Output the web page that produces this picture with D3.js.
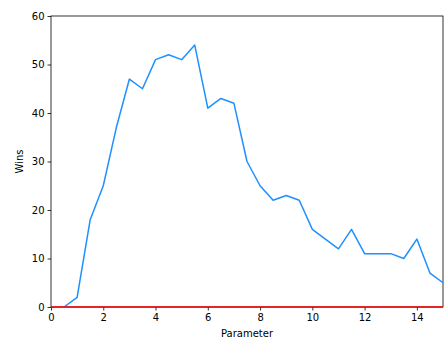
<!DOCTYPE html>
<html>
<head>
<meta charset="utf-8">
<script src="https://cdn.jsdelivr.net/npm/d3@7"></script>
<style>
  html, body { margin: 0; padding: 0; background: #fff; }
  svg { display: block; font-family: "DejaVu Sans", sans-serif; }
</style>
</head>
<body>
<svg id="chart" width="445" height="343"></svg>
<script>
// Parameter sweep and number of wins at each setting
const params = [0.5, 1, 1.5, 2, 2.5, 3, 3.5, 4, 4.5, 5, 5.5, 6, 6.5, 7, 7.5,
                8, 8.5, 9, 9.5, 10, 10.5, 11, 11.5, 12, 12.5, 13, 13.5, 14, 14.5, 15];
const wins = [0, 2, 18, 25, 37, 47, 45, 51, 52, 51, 54, 41, 43, 42, 30,
              25, 22, 23, 22, 16, 14, 12, 16, 11, 11, 11, 10, 14, 7, 5];
const baseline = [0, 0];
const baselineX = [0, 15];
const xTicks = [0, 2, 4, 6, 8, 10, 12, 14];
const yTicks = [0, 10, 20, 30, 40, 50, 60];

const svg = d3.select("#chart");
const margin = { left: 51, right: 2, top: 16, bottom: 36 };
const W = 445, H = 343;

const x = d3.scaleLinear().domain([0, 15]).range([margin.left, W - margin.right]);
const y = d3.scaleLinear().domain([0, 60]).range([H - margin.bottom, margin.top]);

// Axes
const xAxis = svg.append("g")
  .attr("transform", `translate(0,${H - margin.bottom})`)
  .call(d3.axisBottom(x).tickValues(xTicks).tickSize(3.5).tickPadding(3).tickSizeOuter(0));
const yAxis = svg.append("g")
  .attr("transform", `translate(${margin.left},0)`)
  .call(d3.axisLeft(y).tickValues(yTicks).tickSize(3.5).tickPadding(3).tickSizeOuter(0));
[xAxis, yAxis].forEach(g => {
  g.select(".domain").remove();
  g.selectAll("text").attr("font-size", 10).attr("fill", "#000")
    .attr("font-family", "DejaVu Sans, sans-serif");
  g.selectAll("line").attr("stroke", "#000").attr("stroke-width", 0.8);
});

// Frame
svg.append("rect")
  .attr("x", x(0)).attr("y", y(60))
  .attr("width", x(15) - x(0)).attr("height", y(0) - y(60))
  .attr("fill", "none").attr("stroke", "#000").attr("stroke-width", 0.8);

// Wins curve
const line = d3.line().x((d, i) => x(params[i])).y(d => y(d));
svg.append("path")
  .datum(wins)
  .attr("d", line)
  .attr("fill", "none")
  .attr("stroke", "#1e90ff")
  .attr("stroke-width", 1.5)
  .attr("stroke-linejoin", "round");

// Zero baseline
svg.append("path")
  .datum(baseline)
  .attr("d", d3.line().x((d, i) => x(baselineX[i])).y(d => y(d)))
  .attr("fill", "none")
  .attr("stroke", "#ff0000")
  .attr("stroke-width", 1.5);

// Axis titles
svg.append("text")
  .attr("x", (x(0) + x(15)) / 2).attr("y", H - 6)
  .attr("text-anchor", "middle").attr("font-size", 10).text("Parameter");
svg.append("text")
  .attr("transform", `translate(23,${(y(0) + y(60)) / 2}) rotate(-90)`)
  .attr("text-anchor", "middle").attr("font-size", 10).text("Wins");
</script>
</body>
</html>
